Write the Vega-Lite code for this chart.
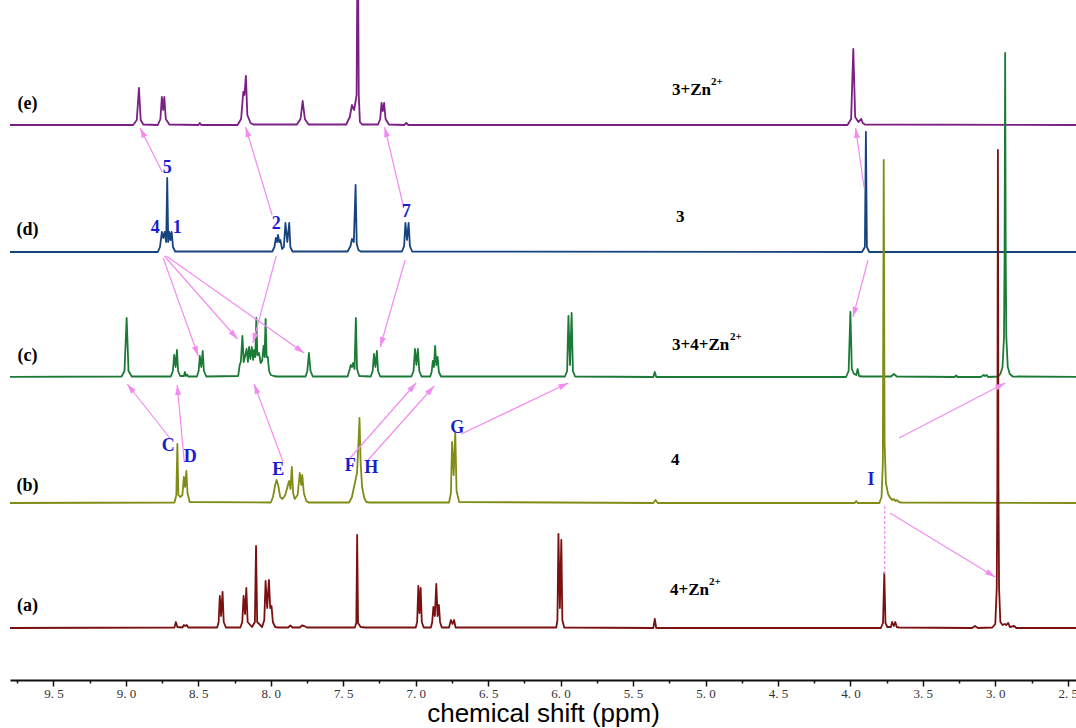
{
"$schema": "https://vega.github.io/schema/vega-lite/v6.json",
"autosize": {"type": "none"},
"padding": {"left": 10, "top": 0, "right": 0, "bottom": 48},
"width": 1066,
"height": 680,
"background": "white",
"config": {"view": {"stroke": null},
"axisX": {"grid": false, "domainColor": "#111", "domainWidth": 2, "tickColor": "#111", "tickWidth": 1.5,
"labelFont": "Liberation Serif", "labelFontSize": 13, "labelColor": "#333", "labelPadding": 1, "labelFlush": false, "labelOverlap": false, "labelBound": false,
"titleFont": "Liberation Sans", "titleFontSize": 26, "titleFontWeight": "normal", "titleColor": "#000", "titleBaseline": "alphabetic", "titleY": 41}},
"datasets": {
"spec": [
{"s":"e","p":9.85,"v":0},{"s":"e","p":8.95,"v":0},{"s":"e","p":8.925,"v":5},{"s":"e","p":8.91,"v":37},{"s":"e","p":8.898,"v":5},{"s":"e","p":8.88,"v":0.5},
{"s":"e","p":8.78,"v":0},{"s":"e","p":8.762,"v":6},{"s":"e","p":8.752,"v":28},{"s":"e","p":8.743,"v":15},{"s":"e","p":8.735,"v":28},{"s":"e","p":8.725,"v":6},{"s":"e","p":8.70,"v":0.5},
{"s":"e","p":8.50,"v":0},{"s":"e","p":8.49,"v":2},{"s":"e","p":8.48,"v":0},
{"s":"e","p":8.23,"v":0},{"s":"e","p":8.205,"v":6},{"s":"e","p":8.19,"v":33},{"s":"e","p":8.182,"v":30},{"s":"e","p":8.172,"v":49},{"s":"e","p":8.162,"v":10},{"s":"e","p":8.14,"v":2},{"s":"e","p":8.12,"v":0.5},
{"s":"e","p":7.82,"v":0.5},{"s":"e","p":7.795,"v":6},{"s":"e","p":7.78,"v":24},{"s":"e","p":7.765,"v":6},{"s":"e","p":7.74,"v":0.5},
{"s":"e","p":7.48,"v":0.5},{"s":"e","p":7.455,"v":8},{"s":"e","p":7.44,"v":20},{"s":"e","p":7.425,"v":15},{"s":"e","p":7.408,"v":30},{"s":"e","p":7.40,"v":220},{"s":"e","p":7.393,"v":30},{"s":"e","p":7.385,"v":3},{"s":"e","p":7.37,"v":0.5},
{"s":"e","p":7.26,"v":0.5},{"s":"e","p":7.245,"v":6},{"s":"e","p":7.236,"v":22},{"s":"e","p":7.227,"v":14},{"s":"e","p":7.218,"v":22},{"s":"e","p":7.208,"v":6},{"s":"e","p":7.185,"v":0.5},
{"s":"e","p":7.08,"v":0},{"s":"e","p":7.065,"v":2},{"s":"e","p":7.05,"v":0},
{"s":"e","p":4.02,"v":0},{"s":"e","p":3.995,"v":6},{"s":"e","p":3.98,"v":76},{"s":"e","p":3.967,"v":8},{"s":"e","p":3.945,"v":3},{"s":"e","p":3.925,"v":6},{"s":"e","p":3.915,"v":2},{"s":"e","p":3.90,"v":0.5},{"s":"e","p":2.40,"v":0},

{"s":"d","p":9.85,"v":0},{"s":"d","p":8.78,"v":0},{"s":"d","p":8.765,"v":5},{"s":"d","p":8.752,"v":20},{"s":"d","p":8.742,"v":14},{"s":"d","p":8.733,"v":20},{"s":"d","p":8.722,"v":10},{"s":"d","p":8.715,"v":74},{"s":"d","p":8.708,"v":10},{"s":"d","p":8.70,"v":20},{"s":"d","p":8.692,"v":12},{"s":"d","p":8.684,"v":20},{"s":"d","p":8.675,"v":5},{"s":"d","p":8.66,"v":0.5},
{"s":"d","p":7.99,"v":0.5},{"s":"d","p":7.975,"v":5},{"s":"d","p":7.965,"v":14},{"s":"d","p":7.957,"v":10},{"s":"d","p":7.95,"v":17},{"s":"d","p":7.942,"v":10},{"s":"d","p":7.934,"v":12},{"s":"d","p":7.922,"v":3},{"s":"d","p":7.91,"v":5},{"s":"d","p":7.899,"v":29},{"s":"d","p":7.886,"v":10},{"s":"d","p":7.873,"v":29},{"s":"d","p":7.865,"v":5},{"s":"d","p":7.85,"v":0.5},
{"s":"d","p":7.47,"v":0.5},{"s":"d","p":7.45,"v":6},{"s":"d","p":7.44,"v":13},{"s":"d","p":7.427,"v":10},{"s":"d","p":7.415,"v":67},{"s":"d","p":7.407,"v":8},{"s":"d","p":7.395,"v":2},{"s":"d","p":7.38,"v":0.5},
{"s":"d","p":7.095,"v":0.5},{"s":"d","p":7.08,"v":6},{"s":"d","p":7.071,"v":29},{"s":"d","p":7.06,"v":12},{"s":"d","p":7.049,"v":29},{"s":"d","p":7.04,"v":6},{"s":"d","p":7.025,"v":0.5},
{"s":"d","p":3.92,"v":0},{"s":"d","p":3.90,"v":5},{"s":"d","p":3.893,"v":120},{"s":"d","p":3.886,"v":5},{"s":"d","p":3.87,"v":0},{"s":"d","p":2.40,"v":0},

{"s":"c","p":9.85,"v":0},{"s":"c","p":9.03,"v":0.5},{"s":"c","p":9.01,"v":6},{"s":"c","p":8.995,"v":59},{"s":"c","p":8.982,"v":6},{"s":"c","p":8.96,"v":0.5},
{"s":"c","p":8.69,"v":0.5},{"s":"c","p":8.676,"v":6},{"s":"c","p":8.667,"v":22},{"s":"c","p":8.657,"v":10},{"s":"c","p":8.648,"v":27},{"s":"c","p":8.64,"v":6},{"s":"c","p":8.625,"v":1},{"s":"c","p":8.60,"v":1},{"s":"c","p":8.593,"v":5},{"s":"c","p":8.586,"v":1},{"s":"c","p":8.578,"v":2.5},{"s":"c","p":8.57,"v":0.5},
{"s":"c","p":8.51,"v":0.5},{"s":"c","p":8.498,"v":6},{"s":"c","p":8.49,"v":21},{"s":"c","p":8.48,"v":10},{"s":"c","p":8.47,"v":26},{"s":"c","p":8.462,"v":6},{"s":"c","p":8.445,"v":0.5},
{"s":"c","p":8.225,"v":1},{"s":"c","p":8.215,"v":12},{"s":"c","p":8.207,"v":15},{"s":"c","p":8.196,"v":41},{"s":"c","p":8.187,"v":15},{"s":"c","p":8.176,"v":22},{"s":"c","p":8.167,"v":28},{"s":"c","p":8.158,"v":15},{"s":"c","p":8.15,"v":30},{"s":"c","p":8.141,"v":18},{"s":"c","p":8.131,"v":30},{"s":"c","p":8.122,"v":17},{"s":"c","p":8.115,"v":27},{"s":"c","p":8.107,"v":20},{"s":"c","p":8.10,"v":59},{"s":"c","p":8.093,"v":22},{"s":"c","p":8.082,"v":24},{"s":"c","p":8.07,"v":14},{"s":"c","p":8.06,"v":16},{"s":"c","p":8.05,"v":31},{"s":"c","p":8.043,"v":20},{"s":"c","p":8.036,"v":58},{"s":"c","p":8.029,"v":20},{"s":"c","p":8.021,"v":20},{"s":"c","p":8.012,"v":6},{"s":"c","p":8.0,"v":2},{"s":"c","p":7.98,"v":1},{"s":"c","p":7.96,"v":0.5},
{"s":"c","p":7.76,"v":0.5},{"s":"c","p":7.748,"v":6},{"s":"c","p":7.737,"v":24},{"s":"c","p":7.726,"v":6},{"s":"c","p":7.71,"v":0.5},
{"s":"c","p":7.47,"v":0.5},{"s":"c","p":7.455,"v":8},{"s":"c","p":7.448,"v":12},{"s":"c","p":7.44,"v":10},{"s":"c","p":7.432,"v":14},{"s":"c","p":7.422,"v":8},{"s":"c","p":7.413,"v":59},{"s":"c","p":7.405,"v":8},{"s":"c","p":7.39,"v":1},
{"s":"c","p":7.31,"v":0.5},{"s":"c","p":7.297,"v":6},{"s":"c","p":7.288,"v":23},{"s":"c","p":7.278,"v":10},{"s":"c","p":7.268,"v":26},{"s":"c","p":7.26,"v":6},{"s":"c","p":7.245,"v":0.5},
{"s":"c","p":7.03,"v":0.5},{"s":"c","p":7.015,"v":6},{"s":"c","p":7.005,"v":28},{"s":"c","p":6.995,"v":12},{"s":"c","p":6.985,"v":28},{"s":"c","p":6.975,"v":6},{"s":"c","p":6.96,"v":0.5},
{"s":"c","p":6.90,"v":0.5},{"s":"c","p":6.89,"v":5},{"s":"c","p":6.882,"v":16},{"s":"c","p":6.874,"v":10},{"s":"c","p":6.866,"v":31},{"s":"c","p":6.858,"v":12},{"s":"c","p":6.849,"v":20},{"s":"c","p":6.84,"v":5},{"s":"c","p":6.825,"v":0.5},
{"s":"c","p":5.97,"v":0.5},{"s":"c","p":5.955,"v":6},{"s":"c","p":5.946,"v":61},{"s":"c","p":5.935,"v":12},{"s":"c","p":5.924,"v":64},{"s":"c","p":5.915,"v":6},{"s":"c","p":5.90,"v":0.5},
{"s":"c","p":5.36,"v":0},{"s":"c","p":5.35,"v":5},{"s":"c","p":5.34,"v":0},
{"s":"c","p":4.03,"v":0},{"s":"c","p":4.012,"v":6},{"s":"c","p":4.0,"v":65},{"s":"c","p":3.99,"v":8},{"s":"c","p":3.975,"v":3},{"s":"c","p":3.96,"v":2},{"s":"c","p":3.95,"v":8},{"s":"c","p":3.94,"v":1},{"s":"c","p":3.92,"v":0.5},
{"s":"c","p":3.72,"v":0.5},{"s":"c","p":3.70,"v":3},{"s":"c","p":3.68,"v":0.5},
{"s":"c","p":3.28,"v":0},{"s":"c","p":3.27,"v":1.5},{"s":"c","p":3.26,"v":0},
{"s":"c","p":3.10,"v":0},{"s":"c","p":3.08,"v":2},{"s":"c","p":3.07,"v":1},{"s":"c","p":3.06,"v":2},{"s":"c","p":3.05,"v":0},
{"s":"c","p":2.98,"v":0.5},{"s":"c","p":2.965,"v":3},{"s":"c","p":2.95,"v":10},{"s":"c","p":2.94,"v":40},{"s":"c","p":2.936,"v":120},{"s":"c","p":2.932,"v":324},{"s":"c","p":2.928,"v":120},{"s":"c","p":2.924,"v":40},{"s":"c","p":2.914,"v":10},{"s":"c","p":2.90,"v":3},{"s":"c","p":2.88,"v":0.5},{"s":"c","p":2.40,"v":0},

{"s":"b","p":9.85,"v":0},{"s":"b","p":8.665,"v":0.5},{"s":"b","p":8.652,"v":8},{"s":"b","p":8.645,"v":59},{"s":"b","p":8.638,"v":8},{"s":"b","p":8.625,"v":6},{"s":"b","p":8.61,"v":8},{"s":"b","p":8.60,"v":26},{"s":"b","p":8.592,"v":16},{"s":"b","p":8.583,"v":32},{"s":"b","p":8.575,"v":10},{"s":"b","p":8.56,"v":1},
{"s":"b","p":8.0,"v":0.5},{"s":"b","p":7.985,"v":6},{"s":"b","p":7.97,"v":18},{"s":"b","p":7.96,"v":23},{"s":"b","p":7.948,"v":17},{"s":"b","p":7.935,"v":6},{"s":"b","p":7.92,"v":4},{"s":"b","p":7.90,"v":8},{"s":"b","p":7.882,"v":18},{"s":"b","p":7.874,"v":22},{"s":"b","p":7.864,"v":14},{"s":"b","p":7.855,"v":36},{"s":"b","p":7.846,"v":10},{"s":"b","p":7.835,"v":4},{"s":"b","p":7.815,"v":8},{"s":"b","p":7.80,"v":30},{"s":"b","p":7.79,"v":18},{"s":"b","p":7.783,"v":28},{"s":"b","p":7.772,"v":10},{"s":"b","p":7.755,"v":2},{"s":"b","p":7.74,"v":0.5},
{"s":"b","p":7.46,"v":0.5},{"s":"b","p":7.44,"v":6},{"s":"b","p":7.42,"v":20},{"s":"b","p":7.405,"v":30},{"s":"b","p":7.395,"v":60},{"s":"b","p":7.388,"v":85},{"s":"b","p":7.38,"v":40},{"s":"b","p":7.37,"v":16},{"s":"b","p":7.355,"v":5},{"s":"b","p":7.34,"v":1},{"s":"b","p":7.32,"v":0.5},
{"s":"b","p":6.77,"v":0.5},{"s":"b","p":6.757,"v":10},{"s":"b","p":6.749,"v":61},{"s":"b","p":6.738,"v":28},{"s":"b","p":6.727,"v":70},{"s":"b","p":6.718,"v":12},{"s":"b","p":6.70,"v":1},
{"s":"b","p":5.36,"v":0},{"s":"b","p":5.345,"v":3},{"s":"b","p":5.33,"v":0},
{"s":"b","p":3.97,"v":0},{"s":"b","p":3.96,"v":2},{"s":"b","p":3.95,"v":0},
{"s":"b","p":3.80,"v":0},{"s":"b","p":3.785,"v":6},{"s":"b","p":3.776,"v":40},{"s":"b","p":3.77,"v":343},{"s":"b","p":3.764,"v":60},{"s":"b","p":3.755,"v":20},{"s":"b","p":3.74,"v":9},{"s":"b","p":3.725,"v":5},{"s":"b","p":3.71,"v":3},{"s":"b","p":3.70,"v":4},{"s":"b","p":3.69,"v":2},{"s":"b","p":3.68,"v":3},{"s":"b","p":3.665,"v":1},{"s":"b","p":3.65,"v":0.5},{"s":"b","p":2.40,"v":0},

{"s":"a","p":9.85,"v":0},{"s":"a","p":8.665,"v":0.5},{"s":"a","p":8.655,"v":6},{"s":"a","p":8.645,"v":1},{"s":"a","p":8.61,"v":0.5},{"s":"a","p":8.60,"v":3},{"s":"a","p":8.59,"v":2},{"s":"a","p":8.58,"v":3},{"s":"a","p":8.57,"v":0.5},
{"s":"a","p":8.37,"v":0.5},{"s":"a","p":8.36,"v":6},{"s":"a","p":8.352,"v":32},{"s":"a","p":8.343,"v":12},{"s":"a","p":8.333,"v":36},{"s":"a","p":8.325,"v":6},{"s":"a","p":8.31,"v":0.5},
{"s":"a","p":8.21,"v":0.5},{"s":"a","p":8.197,"v":6},{"s":"a","p":8.188,"v":32},{"s":"a","p":8.178,"v":14},{"s":"a","p":8.169,"v":40},{"s":"a","p":8.16,"v":6},{"s":"a","p":8.13,"v":1},{"s":"a","p":8.11,"v":6},{"s":"a","p":8.102,"v":82},{"s":"a","p":8.094,"v":6},{"s":"a","p":8.06,"v":1},{"s":"a","p":8.045,"v":8},{"s":"a","p":8.036,"v":47},{"s":"a","p":8.025,"v":20},{"s":"a","p":8.013,"v":48},{"s":"a","p":8.004,"v":20},{"s":"a","p":7.995,"v":22},{"s":"a","p":7.986,"v":6},{"s":"a","p":7.97,"v":1},{"s":"a","p":7.95,"v":0.5},
{"s":"a","p":7.88,"v":0.5},{"s":"a","p":7.865,"v":2.5},{"s":"a","p":7.85,"v":0.5},{"s":"a","p":7.80,"v":0.5},{"s":"a","p":7.785,"v":2.5},{"s":"a","p":7.77,"v":2},{"s":"a","p":7.75,"v":0.5},
{"s":"a","p":7.42,"v":0.5},{"s":"a","p":7.41,"v":5},{"s":"a","p":7.404,"v":93},{"s":"a","p":7.398,"v":5},{"s":"a","p":7.38,"v":1},{"s":"a","p":7.35,"v":0.5},
{"s":"a","p":7.0,"v":0.5},{"s":"a","p":6.99,"v":6},{"s":"a","p":6.982,"v":42},{"s":"a","p":6.974,"v":15},{"s":"a","p":6.966,"v":40},{"s":"a","p":6.958,"v":6},{"s":"a","p":6.945,"v":0.5},
{"s":"a","p":6.895,"v":0.5},{"s":"a","p":6.886,"v":6},{"s":"a","p":6.878,"v":21},{"s":"a","p":6.868,"v":12},{"s":"a","p":6.858,"v":44},{"s":"a","p":6.849,"v":12},{"s":"a","p":6.84,"v":23},{"s":"a","p":6.832,"v":6},{"s":"a","p":6.82,"v":0.5},
{"s":"a","p":6.77,"v":0.5},{"s":"a","p":6.757,"v":8},{"s":"a","p":6.746,"v":4},{"s":"a","p":6.735,"v":8},{"s":"a","p":6.725,"v":0.5},
{"s":"a","p":6.03,"v":0.5},{"s":"a","p":6.022,"v":8},{"s":"a","p":6.015,"v":94},{"s":"a","p":6.005,"v":20},{"s":"a","p":5.995,"v":88},{"s":"a","p":5.988,"v":8},{"s":"a","p":5.975,"v":0.5},
{"s":"a","p":5.36,"v":0},{"s":"a","p":5.35,"v":9},{"s":"a","p":5.34,"v":0},
{"s":"a","p":3.79,"v":0},{"s":"a","p":3.775,"v":5},{"s":"a","p":3.766,"v":55},{"s":"a","p":3.758,"v":5},{"s":"a","p":3.745,"v":1},{"s":"a","p":3.72,"v":1},{"s":"a","p":3.712,"v":6},{"s":"a","p":3.70,"v":2},{"s":"a","p":3.69,"v":6},{"s":"a","p":3.68,"v":1},{"s":"a","p":3.665,"v":0.5},
{"s":"a","p":3.16,"v":0},{"s":"a","p":3.14,"v":2},{"s":"a","p":3.12,"v":0},
{"s":"a","p":3.02,"v":0.5},{"s":"a","p":3.0,"v":4},{"s":"a","p":2.99,"v":40},{"s":"a","p":2.986,"v":140},{"s":"a","p":2.982,"v":478},{"s":"a","p":2.978,"v":140},{"s":"a","p":2.974,"v":40},{"s":"a","p":2.965,"v":6},{"s":"a","p":2.95,"v":3},{"s":"a","p":2.935,"v":4},{"s":"a","p":2.925,"v":3},{"s":"a","p":2.91,"v":5},{"s":"a","p":2.90,"v":1},{"s":"a","p":2.87,"v":2},{"s":"a","p":2.855,"v":0},{"s":"a","p":2.40,"v":0}
],
"arrows": [
{"p":8.749,"v":508,"p2":8.902,"v2":552},
{"p":7.991,"v":465,"p2":8.174,"v2":553},
{"p":7.087,"v":475,"p2":7.214,"v2":553},
{"p":3.905,"v":492,"p2":3.964,"v2":552},
{"p":3.878,"v":420,"p2":3.982,"v2":363},
{"p":8.743,"v":422,"p2":8.501,"v2":324},
{"p":8.735,"v":424,"p2":8.230,"v2":341},
{"p":8.722,"v":424,"p2":7.770,"v2":327},
{"p":7.963,"v":424,"p2":8.124,"v2":337},
{"p":7.073,"v":420,"p2":7.245,"v2":333},
{"p":8.686,"v":240,"p2":8.991,"v2":296},
{"p":8.597,"v":218,"p2":8.646,"v2":295},
{"p":7.915,"v":218,"p2":8.115,"v2":296},
{"p":7.453,"v":222,"p2":6.997,"v2":297},
{"p":7.329,"v":220,"p2":6.873,"v2":294},
{"p":6.686,"v":246,"p2":5.947,"v2":297},
{"p":3.664,"v":242,"p2":2.932,"v2":297},
{"p":3.727,"v":167,"p2":3.001,"v2":103}
],
"dashed": [{"p":3.763,"v":174,"v2":106}],
"leftlabels": [
{"t":"(e)","p":9.68,"v":576},{"t":"(d)","p":9.68,"v":450},{"t":"(c)","p":9.68,"v":324},{"t":"(b)","p":9.68,"v":194},{"t":"(a)","p":9.68,"v":74}
],
"rightlabels": [
{"t":"3+Zn","p":5.231,"v":590},{"t":"3","p":5.203,"v":463},{"t":"3+4+Zn","p":5.231,"v":335},{"t":"4","p":5.238,"v":220},{"t":"4+Zn","p":5.245,"v":90}
],
"sups": [
{"t":"2+","p":4.962,"v":598},{"t":"2+","p":4.831,"v":343},{"t":"2+","p":4.976,"v":98}
],
"blue": [
{"t":"5","p":8.715,"v":512},{"t":"4","p":8.798,"v":452},{"t":"1","p":8.646,"v":452},{"t":"2","p":7.963,"v":456},{"t":"7","p":7.066,"v":468},
{"t":"C","p":8.708,"v":234},{"t":"D","p":8.556,"v":223},{"t":"E","p":7.949,"v":210},{"t":"F","p":7.452,"v":214},{"t":"H","p":7.307,"v":212},{"t":"G","p":6.714,"v":252},{"t":"I","p":3.857,"v":200}
]
},
"encoding": {
"x": {"field": "p", "type": "quantitative", "scale": {"domain": [2.443, 9.8], "reverse": true, "nice": false, "zero": false},
"axis": {"values": [9.75,9.5,9.25,9.0,8.75,8.5,8.25,8.0,7.75,7.5,7.25,7.0,6.75,6.5,6.25,6.0,5.75,5.5,5.25,5.0,4.75,4.5,4.25,4.0,3.75,3.5,3.25,3.0,2.75,2.5],
"labelExpr": "abs(datum.value*2 - round(datum.value*2)) < 0.01 ? replace(format(datum.value, '.1f'), '.', '. ') : ''",
"tickSize": {"condition": {"test": "abs(datum.value*2 - round(datum.value*2)) < 0.01", "value": 6}, "value": 3},
"title": "chemical shift (ppm)"}},
"y": {"field": "v", "type": "quantitative", "scale": {"domain": [0, 680], "nice": false, "zero": false}, "axis": null}
},
"layer": [
{
"data": {"name": "spec"},
"transform": [{"calculate": "datum.v + (datum.s == 'e' ? 555 : datum.s == 'd' ? 428 : datum.s == 'c' ? 303 : datum.s == 'b' ? 177 : 52)", "as": "y"}],
"mark": {"type": "line", "strokeWidth": 1.8, "clip": true, "strokeJoin": "round"},
"encoding": {
"y": {"field": "y", "type": "quantitative", "scale": {"domain": [0, 680], "nice": false, "zero": false}, "axis": null},
"color": {"field": "s", "type": "nominal", "scale": {"domain": ["e","d","c","b","a"], "range": ["#7B1F85","#17437F","#1B7A36","#7F8C15","#7A1010"]}, "legend": null}
}
},
{
"data": {"name": "arrows"},
"mark": {"type": "rule", "color": "#F28CF0", "strokeWidth": 1.2},
"encoding": {"x2": {"field": "p2"}, "y2": {"field": "v2"}}
},
{
"data": {"name": "arrows"},
"transform": [{"calculate": "atan2(-(datum.p2 - datum.p) * 144.9, datum.v2 - datum.v) * 180 / PI", "as": "ang"}],
"mark": {"type": "point", "shape": "M0,0L0.6,2L-0.6,2Z", "filled": true, "color": "#F28CF0", "opacity": 1, "size": 100},
"encoding": {
"x": {"field": "p2", "type": "quantitative", "scale": {"domain": [2.443, 9.8], "reverse": true, "nice": false, "zero": false},
"axis": {"values": [9.75,9.5,9.25,9.0,8.75,8.5,8.25,8.0,7.75,7.5,7.25,7.0,6.75,6.5,6.25,6.0,5.75,5.5,5.25,5.0,4.75,4.5,4.25,4.0,3.75,3.5,3.25,3.0,2.75,2.5],
"labelExpr": "abs(datum.value*2 - round(datum.value*2)) < 0.01 ? replace(format(datum.value, '.1f'), '.', '. ') : ''",
"tickSize": {"condition": {"test": "abs(datum.value*2 - round(datum.value*2)) < 0.01", "value": 6}, "value": 3},
"title": "chemical shift (ppm)"}},
"y": {"field": "v2", "type": "quantitative", "scale": {"domain": [0, 680], "nice": false, "zero": false}, "axis": null},
"angle": {"field": "ang", "type": "quantitative", "scale": null}
}
},
{
"data": {"name": "dashed"},
"mark": {"type": "rule", "color": "#F28CF0", "strokeWidth": 1.2, "strokeDash": [3, 2]},
"encoding": {"y2": {"field": "v2"}}
},
{
"data": {"name": "leftlabels"},
"mark": {"type": "text", "font": "Liberation Serif", "fontWeight": "bold", "fontSize": 18, "color": "#000", "align": "center", "baseline": "middle"},
"encoding": {"text": {"field": "t"}}
},
{
"data": {"name": "rightlabels"},
"mark": {"type": "text", "font": "Liberation Serif", "fontWeight": "bold", "fontSize": 17, "color": "#000", "align": "left", "baseline": "middle"},
"encoding": {"text": {"field": "t"}}
},
{
"data": {"name": "sups"},
"mark": {"type": "text", "font": "Liberation Serif", "fontWeight": "bold", "fontSize": 11, "color": "#000", "align": "left", "baseline": "middle"},
"encoding": {"text": {"field": "t"}}
},
{
"data": {"name": "blue"},
"mark": {"type": "text", "font": "Liberation Serif", "fontWeight": "bold", "fontSize": 18, "color": "#1B1BCF", "align": "center", "baseline": "middle"},
"encoding": {"text": {"field": "t"}}
}
]
}
